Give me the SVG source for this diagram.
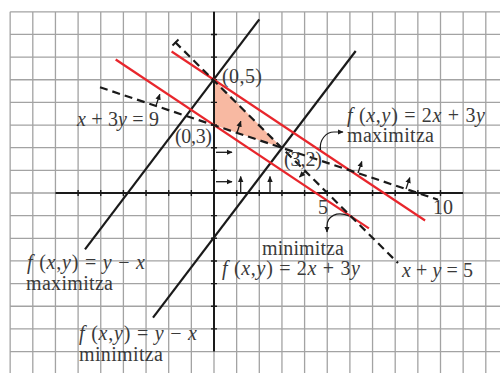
<svg xmlns="http://www.w3.org/2000/svg" width="500" height="373" viewBox="0 0 500 373">
<style>
.grid{stroke:#a3a3a3;stroke-width:1.3;fill:none}
.axis{stroke:#1a1a1a;stroke-width:2;fill:none}
.tick{stroke:#1a1a1a;stroke-width:1.4}
.red{stroke:#e8262c;stroke-width:2.2;fill:none}
.blk{stroke:#1a1a1a;stroke-width:2.2;fill:none}
.dash{stroke:#1a1a1a;stroke-width:2.2;fill:none;stroke-dasharray:8,5}
.hp{stroke:#1a1a1a;stroke-width:1.3;fill:none;marker-end:url(#ah)}
.cur{stroke:#1a1a1a;stroke-width:1.2;fill:none;marker-end:url(#ah)}
text{font-family:"Liberation Serif","Times New Roman",serif;font-size:20px;fill:#3a3a3a}
.i{font-style:italic}
</style>
<defs>
<marker id="ah" viewBox="0 0 10 10" refX="9" refY="5" markerWidth="6" markerHeight="6" markerUnits="userSpaceOnUse" orient="auto">
<path d="M0,0.5 L10,5 L0,9.5 z" fill="#1a1a1a"/>
</marker>
</defs>
<g id="grid">
<path class="grid" d="M10.15,11.8V373M32.8,11.8V373M55.45,11.8V373M78.1,11.8V373M100.75,11.8V373M123.4,11.8V373M146.05,11.8V373M168.7,11.8V373M191.35,11.8V373M236.65,11.8V373M259.3,11.8V373M281.95,11.8V373M304.6,11.8V373M327.25,11.8V373M349.9,11.8V373M372.55,11.8V373M395.2,11.8V373M417.85,11.8V373M440.5,11.8V373M463.15,11.8V373M485.8,11.8V373M10.15,11.8H500M10.15,34.45H500M10.15,57.1H500M10.15,79.75H500M10.15,102.4H500M10.15,125.05H500M10.15,147.7H500M10.15,170.35H500M10.15,215.65H500M10.15,238.3H500M10.15,260.95H500M10.15,283.6H500M10.15,306.25H500M10.15,328.9H500M10.15,351.55H500"/>
<path class="grid" d="M214,351.55V373M10.15,193H57M463,193H500"/>
</g>
<g id="region">
<polygon points="214,79.75 214,125.05 281.95,147.7" fill="#f8b9a2"/>
</g>
<g id="axes">
<path class="axis" d="M55.45,193H463.15M214,11.8V351.55"/>
<path class="tick" d="M78.1,190V196M100.75,190V196M123.4,190V196M146.05,190V196M168.7,190V196M191.35,190V196M236.65,190V196M259.3,190V196M281.95,190V196M304.6,190V196M327.25,190V196M349.9,190V196M372.55,190V196M395.2,190V196M417.85,190V196M440.5,190V196M211,34.45H217M211,57.1H217M211,79.75H217M211,102.4H217M211,125.05H217M211,147.7H217M211,170.35H217M211,215.65H217M211,238.3H217M211,260.95H217M211,283.6H217M211,306.25H217M211,328.9H217"/>
</g>
<g id="connectors">
<line id="f-max-yx" class="blk" x1="85" y1="249.3" x2="259.3" y2="19.3"/>
<line id="f-min-yx" class="blk" x1="153" y1="317.7" x2="355.7" y2="51"/>
<line id="f-min-2x3y" class="red" x1="115.7" y1="59.5" x2="368.9" y2="228.3"/>
<line id="f-max-2x3y" class="red" x1="171.6" y1="51.5" x2="425.1" y2="220.5"/>
<line id="c-x3y9" class="dash" x1="100" y1="87.3" x2="438" y2="199.7"/>
<line id="c-xy5" class="dash" x1="175" y1="42" x2="398" y2="263"/>
<path class="axis" d="M172.5,45.5L178.5,39.5"/>
<path class="hp" d="M156,105.7L159.8,94.3"/>
<path class="hp" d="M237,132.7L240.8,121.3"/>
<path class="hp" d="M358,173L361.8,161.5"/>
<path class="hp" d="M406,189L409.8,177.6"/>
<path class="hp" d="M305.5,171L299.5,177"/>
<path class="hp" d="M216,152.3H232"/>
<path class="hp" d="M216,181.7H232"/>
<path class="hp" d="M240.7,192V176.5"/>
<path class="hp" d="M270,192V176.5"/>
<path class="cur" d="M320.5,150C319,140 326,132 334,132H343"/>
<path class="cur" d="M349,216C337,211 327,216 327,226V232"/>
</g>
<g id="labels">
<text x="222" y="83" textLength="40">(0,5)</text>
<text x="175" y="143" textLength="37">(0,3)</text>
<text x="284" y="166" textLength="38">(3,2)</text>
<text x="77" y="126" textLength="82"><tspan class="i">x</tspan> + 3<tspan class="i">y</tspan> = 9</text>
<text x="347" y="122" textLength="138"><tspan class="i">f</tspan> (<tspan class="i">x</tspan>,<tspan class="i">y</tspan>) = 2<tspan class="i">x</tspan> + 3<tspan class="i">y</tspan></text>
<text x="347" y="142" textLength="87">maximitza</text>
<text x="318" y="214">5</text>
<text x="433" y="214">10</text>
<text x="262" y="255" textLength="82">minimitza</text>
<text x="222" y="275" textLength="138"><tspan class="i">f</tspan> (<tspan class="i">x</tspan>,<tspan class="i">y</tspan>) = 2<tspan class="i">x</tspan> + 3<tspan class="i">y</tspan></text>
<text x="402" y="277" textLength="71"><tspan class="i">x</tspan> + <tspan class="i">y</tspan> = 5</text>
<text x="27" y="269" textLength="118"><tspan class="i">f</tspan> (<tspan class="i">x</tspan>,<tspan class="i">y</tspan>) = <tspan class="i">y</tspan> − <tspan class="i">x</tspan></text>
<text x="26" y="290" textLength="87">maximitza</text>
<text x="79" y="340" textLength="118"><tspan class="i">f</tspan> (<tspan class="i">x</tspan>,<tspan class="i">y</tspan>) = <tspan class="i">y</tspan> − <tspan class="i">x</tspan></text>
<text x="79" y="361" textLength="84">minimitza</text>
</g>
</svg>
